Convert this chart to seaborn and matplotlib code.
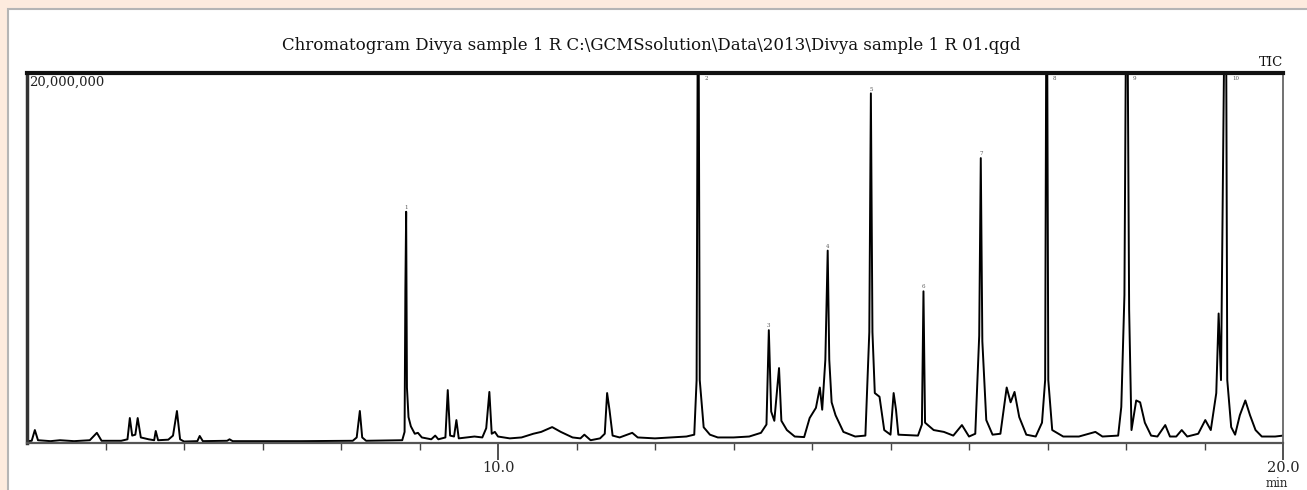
import pandas as pd
import matplotlib
matplotlib.use("Agg")
import matplotlib.pyplot as plt
import seaborn as sns
from matplotlib.patches import Rectangle

# TIC trace: retention time (min) vs intensity (millions of counts)
rt_min = [
    4.00, 4.06, 4.10, 4.14, 4.30, 4.42, 4.60, 4.80, 4.89, 4.95,
    5.20, 5.28, 5.31, 5.34, 5.38, 5.41, 5.45, 5.55, 5.62, 5.64,
    5.67, 5.80, 5.86, 5.91, 5.95, 6.00, 6.17, 6.20, 6.24, 6.55,
    6.58, 6.62, 7.50, 8.15, 8.20, 8.24, 8.27, 8.32, 8.78, 8.81,
    8.82, 8.83, 8.84, 8.86, 8.89, 8.94, 8.98, 9.03, 9.15, 9.20,
    9.24, 9.33, 9.36, 9.39, 9.44, 9.47, 9.50, 9.60, 9.70, 9.80,
    9.85, 9.89, 9.92, 9.96, 10.00, 10.15, 10.30, 10.45, 10.55, 10.69,
    10.80, 10.95, 11.05, 11.10, 11.18, 11.30, 11.36, 11.39, 11.42, 11.46,
    11.55, 11.71, 11.78, 12.00, 12.20, 12.40, 12.50, 12.53, 12.55, 12.57,
    12.62, 12.70, 12.80, 13.00, 13.20, 13.35, 13.42, 13.45, 13.48, 13.52,
    13.58, 13.61, 13.68, 13.78, 13.90, 13.97, 14.05, 14.10, 14.13, 14.17,
    14.20, 14.22, 14.25, 14.30, 14.40, 14.55, 14.68, 14.73, 14.75, 14.77,
    14.80, 14.86, 14.92, 15.00, 15.04, 15.07, 15.10, 15.35, 15.40, 15.42,
    15.44, 15.55, 15.68, 15.80, 15.91, 16.00, 16.08, 16.13, 16.15, 16.17,
    16.22, 16.30, 16.40, 16.48, 16.53, 16.58, 16.64, 16.73, 16.85, 16.93,
    16.97, 16.99, 17.01, 17.06, 17.20, 17.40, 17.61, 17.70, 17.90, 17.94,
    17.98, 18.01, 18.04, 18.07, 18.13, 18.18, 18.24, 18.32, 18.40, 18.50,
    18.56, 18.64, 18.71, 18.78, 18.92, 19.01, 19.08, 19.15, 19.18, 19.21,
    19.27, 19.29, 19.34, 19.39, 19.45, 19.52, 19.58, 19.65, 19.73, 19.90,
    20.00,
]
tic_millions = [
    0.10, 0.12, 0.70, 0.15, 0.10, 0.15, 0.10, 0.15, 0.55, 0.12,
    0.12, 0.20, 1.35, 0.40, 0.45, 1.35, 0.30, 0.20, 0.15, 0.65,
    0.15, 0.18, 0.40, 1.73, 0.20, 0.08, 0.10, 0.38, 0.10, 0.12,
    0.20, 0.10, 0.10, 0.12, 0.30, 1.73, 0.30, 0.12, 0.15, 0.60,
    8.30, 12.50, 3.00, 1.40, 0.90, 0.50, 0.55, 0.30, 0.20, 0.40,
    0.20, 0.30, 2.86, 0.40, 0.35, 1.24, 0.25, 0.30, 0.35, 0.30,
    0.80, 2.76, 0.50, 0.60, 0.35, 0.25, 0.30, 0.50, 0.60, 0.86,
    0.60, 0.30, 0.25, 0.45, 0.15, 0.25, 0.50, 2.70, 1.80, 0.40,
    0.30, 0.55, 0.30, 0.25, 0.30, 0.35, 0.45, 3.40, 30.0, 3.40,
    0.85, 0.45, 0.30, 0.30, 0.35, 0.55, 1.00, 6.10, 1.70, 1.20,
    4.05, 1.20, 0.70, 0.35, 0.32, 1.35, 1.90, 3.00, 1.80, 4.50,
    10.40, 4.50, 2.20, 1.50, 0.60, 0.35, 0.40, 6.00, 18.90, 6.00,
    2.70, 2.50, 0.70, 0.45, 2.70, 1.80, 0.45, 0.40, 1.00, 8.20,
    1.10, 0.70, 0.60, 0.40, 0.97, 0.35, 0.50, 5.80, 15.40, 5.50,
    1.24, 0.45, 0.50, 3.00, 2.20, 2.76, 1.40, 0.45, 0.35, 1.10,
    3.40, 30.0, 3.40, 0.70, 0.35, 0.35, 0.60, 0.35, 0.40, 1.95,
    8.00, 30.0, 7.20, 0.70, 2.30, 2.20, 1.10, 0.40, 0.35, 0.97,
    0.35, 0.35, 0.70, 0.35, 0.50, 1.24, 0.70, 2.70, 7.00, 3.40,
    30.0, 3.40, 0.86, 0.45, 1.50, 2.30, 1.50, 0.70, 0.35, 0.35,
    0.40,
]

peak_rt = [8.83, 12.55, 13.45, 14.20, 14.75, 15.42, 16.15, 16.99, 18.01, 19.27]
peak_top = [12.5, 30.0, 6.1, 10.4, 18.9, 8.2, 15.4, 30.0, 30.0, 30.0]
peak_no = ["1", "2", "3", "4", "5", "6", "7", "8", "9", "10"]

title = "Chromatogram Divya sample 1 R C:\\GCMSsolution\\Data\\2013\\Divya sample 1 R 01.qgd"

sns.set_style("white")
plt.rcParams["font.family"] = ["DejaVu Serif"]

W, H = 1307, 490
fig = plt.figure(figsize=(W / 100, H / 100), dpi=100, facecolor="#fdebde")
fig.patches.append(Rectangle((8 / W, -0.01), 1.0, 1 - 9 / H + 0.01, transform=fig.transFigure,
                             facecolor="white", edgecolor="#b5b5b5", lw=1.5, zorder=-10))

ax = fig.add_axes([27 / W, 1 - 443 / H, (1283 - 27) / W, (443 - 73) / H])
ax.set_zorder(1)
ax.patch.set_alpha(0)
df = pd.DataFrame({"Time (min)": rt_min, "TIC": tic_millions})
sns.lineplot(data=df, x="Time (min)", y="TIC", ax=ax, color="black", lw=1.4,
             sort=False, estimator=None)
ax.set_xlim(4, 20)
ax.set_ylim(0, 20)
ax.set_xlabel("")
ax.set_ylabel("")
ax.set_yticks([])
ax.set_xticks([10, 20])
ax.set_xticklabels(["10.0", "20.0"], fontsize=10.5)
ax.set_xticks(range(5, 20), minor=True)
ax.tick_params(axis="x", which="both", bottom=True, direction="out")
ax.tick_params(axis="x", which="major", length=12, width=1.2, color="#333333", pad=1)
ax.tick_params(axis="x", which="minor", length=5, width=1.0, color="#444444")

for side, lw, col in [("top", 3.0, "#111111"), ("left", 2.5, "#333333"),
                      ("right", 1.3, "#666666"), ("bottom", 1.6, "#555555")]:
    ax.spines[side].set_visible(True)
    ax.spines[side].set_linewidth(lw)
    ax.spines[side].set_color(col)

# peak number marks
for rt, top, no in zip(peak_rt, peak_top, peak_no):
    if top < 20:
        ax.text(rt, top + 0.1, no, ha="center", va="bottom", fontsize=4, color="#555555")
    else:
        ax.text(rt + 0.08, 19.85, no, ha="left", va="top", fontsize=4, color="#555555")

ax.text(0.002, 0.992, "20,000,000", transform=ax.transAxes, ha="left", va="top",
        fontsize=9.5, color="#222222")
fig.text(651 / W, 1 - 45 / H, title, ha="center", va="center", fontsize=12, color="#111111")
fig.text(1283 / W, 1 - 63 / H, "TIC", ha="right", va="center", fontsize=9.5, color="#111111")
fig.text(1277 / W, 1 - 483 / H, "min", ha="center", va="center", fontsize=8.5, color="#222222")

fig.savefig("out.png", dpi=100, facecolor=fig.get_facecolor())
